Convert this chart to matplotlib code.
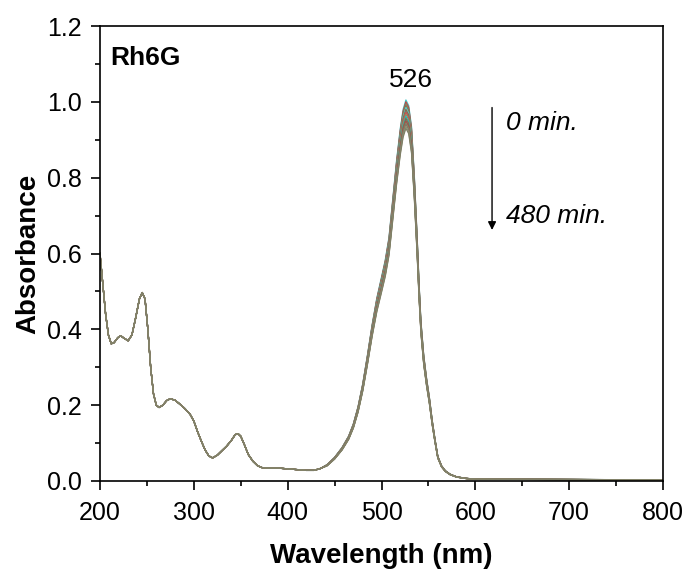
import numpy as np
import matplotlib
matplotlib.use('Agg')
import matplotlib.pyplot as plt
from matplotlib.ticker import MultipleLocator, FormatStrFormatter

plt.rcParams['font.family'] = ['Liberation Sans', 'DejaVu Sans']

# base spectrum (t = 0 min)
WAVELENGTH = [200, 203, 206, 209, 212, 215, 219, 222, 226, 230, 234, 238, 242, 245,
              248, 251, 254, 257, 260, 263, 267, 271, 275, 280, 285, 290, 296, 300,
              304, 308, 312, 316, 320, 325, 330, 335, 340, 344, 347, 350, 354, 358,
              363, 368, 373, 380, 390, 400, 410, 420, 428, 435, 442, 450, 458, 465,
              470, 475, 480, 485, 490, 495, 500, 504, 508, 512, 516, 520, 523, 526,
              529, 532, 535, 538, 540, 542, 545, 548, 551, 554, 557, 560, 564, 568,
              573, 580, 590, 600, 700, 800]
ABSORBANCE = [0.600, 0.520, 0.440, 0.385, 0.362, 0.365, 0.378, 0.383, 0.376, 0.370,
              0.385, 0.430, 0.480, 0.497, 0.480, 0.400, 0.300, 0.230, 0.200, 0.194,
              0.200, 0.212, 0.217, 0.213, 0.203, 0.192, 0.176, 0.158, 0.130, 0.105,
              0.082, 0.066, 0.061, 0.068, 0.080, 0.092, 0.107, 0.122, 0.125, 0.118,
              0.095, 0.070, 0.052, 0.040, 0.035, 0.034, 0.034, 0.032, 0.030, 0.028,
              0.028, 0.033, 0.043, 0.062, 0.088, 0.118, 0.150, 0.195, 0.255, 0.330,
              0.410, 0.480, 0.535, 0.580, 0.640, 0.740, 0.840, 0.925, 0.975, 1.000,
              0.985, 0.930, 0.800, 0.640, 0.520, 0.420, 0.330, 0.270, 0.220, 0.160,
              0.110, 0.065, 0.040, 0.027, 0.018, 0.011, 0.007, 0.005, 0.004, 0.003]

# peak absorbance of each recorded spectrum, 0 .. 480 min
TIMES = [0, 30, 60, 90, 120, 150, 180, 210, 240, 270, 300, 330, 360, 390, 420, 450, 480]
PEAKS = [1.005, 1.000, 0.995, 0.990, 0.985, 0.980, 0.976, 0.972, 0.967, 0.962,
         0.957, 0.952, 0.948, 0.944, 0.940, 0.935, 0.930]

COLORS = ['#40c8c8', '#c04040', '#8a7a60', '#7a7a50', '#50d0d0', '#a05a40',
          '#6f806a', '#d05050', '#9a8a5a', '#20c0c0', '#8b6b4b', '#707060',
          '#b04848', '#858560', '#7a7a6a', '#909070', '#808068']

wl = np.array(WAVELENGTH)
base = np.array(ABSORBANCE)
visible = wl >= 440

fig = plt.figure(figsize=(6.91, 5.72), dpi=100)
ax = fig.add_axes([0.1447, 0.1591, 0.8148, 0.7954])

for peak, color in zip(PEAKS, COLORS):
    curve = base.copy()
    curve[visible] *= peak / base.max()
    ax.plot(wl, curve, color=color, lw=0.9)

ax.set_xlim(200, 800)
ax.set_ylim(0, 1.2)
ax.xaxis.set_major_locator(MultipleLocator(100))
ax.xaxis.set_minor_locator(MultipleLocator(50))
ax.yaxis.set_major_locator(MultipleLocator(0.2))
ax.yaxis.set_minor_locator(MultipleLocator(0.1))
ax.yaxis.set_major_formatter(FormatStrFormatter('%.1f'))
ax.tick_params(which='both', direction='out', top=False, right=False,
               labelsize=18, width=1.2, colors='black')
ax.tick_params(which='major', length=6.5)
ax.tick_params(which='minor', length=3.6)
ax.tick_params(axis='x', which='major', pad=8)
ax.tick_params(axis='y', which='major', pad=6.5)
for spine in ax.spines.values():
    spine.set_linewidth(1.2)

ax.set_xlabel('Wavelength (nm)', fontsize=20, fontweight='bold', labelpad=13)
ax.set_ylabel('Absorbance', fontsize=20, fontweight='bold', labelpad=4)

ax.text(210.7, 1.097, 'Rh6G', fontsize=19, fontweight='bold', va='baseline')
ax.text(531, 1.04, '526', fontsize=19, ha='center', va='baseline')

ax.annotate('', xy=(617.8, 0.662), xytext=(617.8, 0.985),
            arrowprops=dict(arrowstyle='-|>', color='black', lw=1,
                            mutation_scale=12, shrinkA=0, shrinkB=0))
ax.text(632.7, 0.926, '0 min.', fontsize=19, style='italic', va='baseline')
ax.text(632.7, 0.681, '480 min.', fontsize=19, style='italic', va='baseline')

fig.savefig('out.png', dpi=100)
